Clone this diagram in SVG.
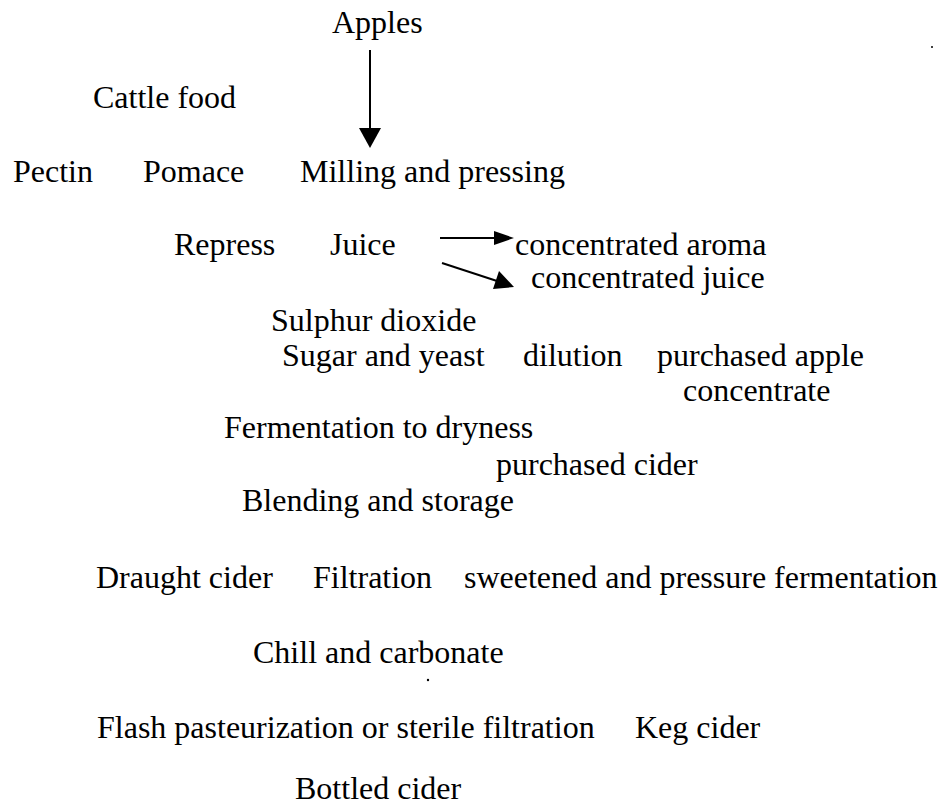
<svg xmlns="http://www.w3.org/2000/svg" width="939" height="807" viewBox="0 0 939 807">
<style>
text{font-family:"Liberation Serif","Times New Roman",serif;font-size:32px;fill:#000}
.ln{stroke:#000;stroke-width:2;fill:none}
.hd{fill:#000}
</style>
<rect width="939" height="807" fill="#fff"/>
<g id="connectors">
<line class="ln" x1="370" y1="50" x2="370" y2="130"/>
<polygon class="hd" points="359,128 381,128 370,148"/>
<line class="ln" x1="440" y1="238" x2="496" y2="238"/>
<polygon class="hd" points="494,231 494,245 514,238"/>
<line class="ln" x1="442" y1="263" x2="497" y2="281"/>
<polygon class="hd" points="493,289 499,271 514,287"/>
</g>
<g id="apples"><text x="332" y="33">Apples</text></g>
<g id="cattle-food"><text x="93" y="108">Cattle food</text></g>
<g id="pectin"><text x="13" y="182">Pectin</text></g>
<g id="pomace"><text x="143" y="182">Pomace</text></g>
<g id="milling"><text x="300" y="182">Milling and pressing</text></g>
<g id="repress"><text x="174" y="255">Repress</text></g>
<g id="juice"><text x="330" y="255">Juice</text></g>
<g id="conc-aroma"><text x="515" y="255">concentrated aroma</text></g>
<g id="conc-juice"><text x="531" y="288">concentrated juice</text></g>
<g id="sulphur"><text x="271" y="331">Sulphur dioxide</text></g>
<g id="sugar"><text x="282" y="366">Sugar and yeast</text></g>
<g id="dilution"><text x="523" y="366">dilution</text></g>
<g id="purchased-apple"><text x="657" y="366">purchased apple</text><text x="683" y="401">concentrate</text></g>
<g id="fermentation"><text x="224" y="438">Fermentation to dryness</text></g>
<g id="purchased-cider"><text x="496" y="475">purchased cider</text></g>
<g id="blending"><text x="242" y="511">Blending and storage</text></g>
<g id="draught"><text x="96" y="588">Draught cider</text></g>
<g id="filtration"><text x="313" y="588">Filtration</text></g>
<g id="sweetened"><text x="464" y="588">sweetened and pressure fermentation</text></g>
<g id="chill"><text x="253" y="663">Chill and carbonate</text></g>
<g id="flash"><text x="97" y="738">Flash pasteurization or sterile filtration</text></g>
<g id="keg"><text x="635" y="738">Keg cider</text></g>
<g id="bottled"><text x="295" y="799">Bottled cider</text></g>
<circle cx="428" cy="680" r="1.2" fill="#000"/>
<circle cx="932" cy="47" r="1" fill="#000"/>
</svg>
